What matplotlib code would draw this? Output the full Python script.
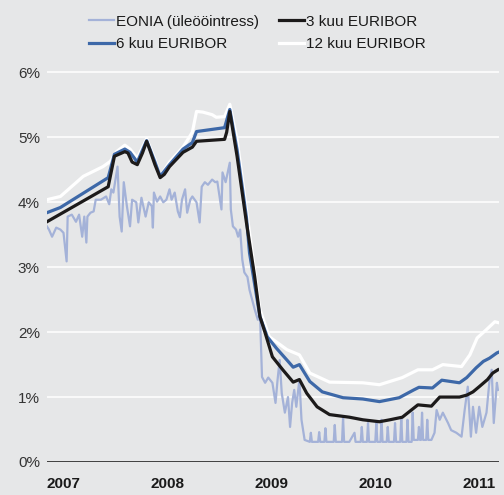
import numpy as np
import matplotlib
matplotlib.use("Agg")
import matplotlib.pyplot as plt

plt.rcParams['font.family'] = ['Liberation Sans', 'DejaVu Sans']

# Data (decimal year, percent)
eur3_t = [2007.00, 2007.59, 2007.65, 2007.75, 2007.78, 2007.82, 2007.87, 2007.92, 2007.96, 2007.99,
          2008.04, 2008.09, 2008.13, 2008.18, 2008.31, 2008.40, 2008.44, 2008.71, 2008.73, 2008.76,
          2008.83, 2008.92, 2009.00, 2009.05, 2009.10, 2009.17, 2009.27, 2009.37, 2009.43, 2009.50,
          2009.60, 2009.72, 2009.91, 2010.04, 2010.20, 2010.30, 2010.42, 2010.57, 2010.70, 2010.78,
          2010.97, 2011.04, 2011.10, 2011.16, 2011.24, 2011.29, 2011.34]
eur3_v = [3.70, 4.24, 4.71, 4.78, 4.76, 4.62, 4.58, 4.76, 4.94, 4.81,
          4.58, 4.38, 4.43, 4.55, 4.77, 4.85, 4.94, 4.97, 5.08, 5.40,
          4.71, 3.69, 2.85, 2.24, 1.99, 1.62, 1.42, 1.23, 1.27, 1.06,
          0.85, 0.73, 0.69, 0.65, 0.62, 0.65, 0.69, 0.88, 0.86, 1.00,
          1.00, 1.03, 1.08, 1.16, 1.27, 1.37, 1.42]

eur6_t = [2007.00, 2007.13, 2007.59, 2007.65, 2007.75, 2007.80, 2007.87, 2007.96, 2008.04, 2008.09,
          2008.18, 2008.31, 2008.40, 2008.44, 2008.71, 2008.76, 2008.83, 2008.92, 2008.95, 2009.05,
          2009.12, 2009.21, 2009.31, 2009.37, 2009.43, 2009.53, 2009.65, 2009.85, 2010.04, 2010.20,
          2010.39, 2010.53, 2010.58, 2010.71, 2010.80, 2010.97, 2011.04, 2011.13, 2011.20, 2011.26,
          2011.33, 2011.36]
eur6_v = [3.84, 3.92, 4.38, 4.74, 4.82, 4.77, 4.62, 4.95, 4.62, 4.40,
          4.58, 4.82, 4.92, 5.09, 5.15, 5.43, 4.81, 3.77, 3.22, 2.24,
          1.93, 1.75, 1.57, 1.46, 1.50, 1.24, 1.08, 0.99, 0.97, 0.93,
          0.99, 1.11, 1.15, 1.14, 1.26, 1.22, 1.30, 1.45, 1.55, 1.60,
          1.68, 1.70]

eur12_t = [2007.00, 2007.13, 2007.35, 2007.54, 2007.61, 2007.67, 2007.75, 2007.80, 2007.87, 2007.96,
           2008.04, 2008.09, 2008.18, 2008.31, 2008.40, 2008.44, 2008.50, 2008.59, 2008.63, 2008.71,
           2008.76, 2008.83, 2008.95, 2009.05, 2009.14, 2009.31, 2009.43, 2009.53, 2009.72, 2010.04,
           2010.20, 2010.42, 2010.57, 2010.71, 2010.81, 2010.99, 2011.07, 2011.14, 2011.23, 2011.31,
           2011.36]
eur12_v = [4.04, 4.09, 4.40, 4.55, 4.63, 4.78, 4.88, 4.82, 4.68, 4.98,
           4.66, 4.40, 4.62, 4.85, 5.08, 5.40, 5.39, 5.35, 5.31, 5.32,
           5.51, 4.97, 3.53, 2.35, 1.93, 1.73, 1.65, 1.37, 1.23, 1.22,
           1.19, 1.30, 1.42, 1.42, 1.50, 1.47, 1.65, 1.91, 2.04, 2.16,
           2.14]

eonia_t = [2007.00, 2007.02, 2007.05, 2007.09, 2007.13, 2007.16, 2007.19, 2007.20, 2007.24, 2007.28,
           2007.31, 2007.34, 2007.36, 2007.38, 2007.39, 2007.42, 2007.45, 2007.47, 2007.52, 2007.57,
           2007.60, 2007.62, 2007.64, 2007.68, 2007.70, 2007.72, 2007.74, 2007.77, 2007.80, 2007.82,
           2007.86, 2007.88, 2007.91, 2007.95, 2007.98, 2008.01, 2008.02, 2008.03, 2008.06, 2008.09,
           2008.12, 2008.15, 2008.18, 2008.20, 2008.23, 2008.26, 2008.28, 2008.30, 2008.33, 2008.35,
           2008.38, 2008.40, 2008.44, 2008.47, 2008.49, 2008.52, 2008.55, 2008.59, 2008.62, 2008.64,
           2008.68, 2008.69, 2008.72, 2008.76, 2008.77, 2008.79, 2008.82, 2008.84, 2008.86, 2008.88,
           2008.90, 2008.93, 2008.95, 2009.00, 2009.03, 2009.05, 2009.07, 2009.10, 2009.13, 2009.17,
           2009.20, 2009.22, 2009.24, 2009.26, 2009.29, 2009.32, 2009.34, 2009.36, 2009.38, 2009.40,
           2009.43, 2009.45, 2009.48, 2009.53, 2009.54, 2009.55, 2009.61, 2009.62, 2009.63, 2009.67,
           2009.68, 2009.69, 2009.76, 2009.77, 2009.78, 2009.84, 2009.85, 2009.86, 2009.91, 2009.96,
           2009.97, 2010.02, 2010.03, 2010.04, 2010.08, 2010.09, 2010.10, 2010.16, 2010.17, 2010.18,
           2010.21, 2010.22, 2010.23, 2010.27, 2010.28, 2010.29, 2010.34, 2010.35, 2010.36, 2010.40,
           2010.41, 2010.42, 2010.46, 2010.47, 2010.48, 2010.51, 2010.52, 2010.53, 2010.57, 2010.58,
           2010.59, 2010.60, 2010.61, 2010.62, 2010.65, 2010.66, 2010.67, 2010.70, 2010.73, 2010.75,
           2010.78, 2010.81, 2010.86, 2010.89, 2010.94, 2010.99, 2011.02, 2011.05, 2011.08, 2011.10,
           2011.13, 2011.16, 2011.19, 2011.23, 2011.26, 2011.28, 2011.30, 2011.33, 2011.34]
eonia_v = [3.63, 3.58, 3.47, 3.61, 3.58, 3.53, 3.09, 3.78, 3.81, 3.70,
           3.81, 3.47, 3.78, 3.38, 3.78, 3.84, 3.86, 4.04, 4.04, 4.09,
           3.97, 4.20, 4.15, 4.55, 3.78, 3.55, 4.31, 3.94, 3.63, 4.04,
           4.00, 3.69, 4.07, 3.78, 4.00, 3.94, 3.61, 4.15, 4.01, 4.09,
           4.00, 4.04, 4.20, 4.04, 4.15, 3.86, 3.77, 4.04, 4.20, 3.84,
           4.04, 4.09, 4.00, 3.69, 4.24, 4.31, 4.27, 4.35, 4.31, 4.32,
           3.89, 4.46, 4.31, 4.61, 3.89, 3.63, 3.58, 3.47, 3.58, 3.12,
           2.92, 2.85, 2.65, 2.35, 2.19, 2.31, 1.31, 1.22, 1.30, 1.22,
           0.91, 1.27, 1.57, 1.06, 0.76, 1.00, 0.54, 0.91, 1.11, 0.85,
           1.27, 0.65, 0.34, 0.31, 0.45, 0.31, 0.31, 0.46, 0.31, 0.31,
           0.52, 0.31, 0.31, 0.57, 0.31, 0.31, 0.68, 0.31, 0.31, 0.45,
           0.31, 0.31, 0.54, 0.31, 0.31, 0.60, 0.31, 0.31, 0.60, 0.31,
           0.31, 0.65, 0.31, 0.31, 0.54, 0.31, 0.31, 0.60, 0.31, 0.31,
           0.69, 0.31, 0.31, 0.65, 0.31, 0.31, 0.76, 0.34, 0.34, 0.54,
           0.34, 0.34, 0.76, 0.34, 0.34, 0.65, 0.34, 0.34, 0.45, 0.80,
           0.65, 0.76, 0.60, 0.49, 0.45, 0.39, 0.80, 1.16, 0.39, 0.85,
           0.45, 0.85, 0.54, 0.76, 1.27, 1.42, 0.60, 1.22, 1.11]

years = [2007, 2008, 2009, 2010, 2011]
pct_ticks = [0, 1, 2, 3, 4, 5, 6]

bg = '#e6e7e8'
fig = plt.figure(figsize=(5.04, 4.95), dpi=100, facecolor=bg)
ax = fig.add_axes([0.093, 0.0667, 0.897, 0.80])
ax.set_facecolor(bg)

for y in pct_ticks[1:]:
    ax.axhline(y, color='white', lw=1.1, zorder=1)
ax.axhline(0, color='#333333', lw=1.3, zorder=6)

l_eon, = ax.plot(eonia_t, eonia_v, color='#a4b2d8', lw=1.6, zorder=2)
l12, = ax.plot(eur12_t, eur12_v, color='white', lw=2.3, zorder=3)
l6, = ax.plot(eur6_t, eur6_v, color='#3d68a8', lw=2.3, zorder=4)
l3, = ax.plot(eur3_t, eur3_v, color='#1c1a1a', lw=2.3, zorder=5)

ax.set_xlim(2007.0, 2011.35)
ax.set_ylim(0, 6.1)
ax.set_yticks(pct_ticks)
ax.set_yticklabels([f'{v}%' for v in pct_ticks])
ax.set_xticks(years)
ax.set_xticklabels([str(y) for y in years], fontweight='bold', ha='left')
ax.tick_params(axis='x', length=0, pad=11, labelsize=11, colors='#1a1a1a')
ax.tick_params(axis='y', length=0, pad=5, labelsize=11, colors='#333333')
for s in ax.spines.values():
    s.set_visible(False)

fig.legend([l_eon, l6, l3, l12],
           ['EONIA (üleööintress)', '6 kuu EURIBOR', '3 kuu EURIBOR', '12 kuu EURIBOR'],
           ncol=2, loc='upper left', bbox_to_anchor=(0.152, 0.995), frameon=False,
           fontsize=11, handlelength=1.65, handletextpad=0.1, columnspacing=1.35,
           labelspacing=0.55, borderpad=0.3, labelcolor='#1a1a1a')

fig.savefig('out.png', dpi=100, facecolor=bg)
